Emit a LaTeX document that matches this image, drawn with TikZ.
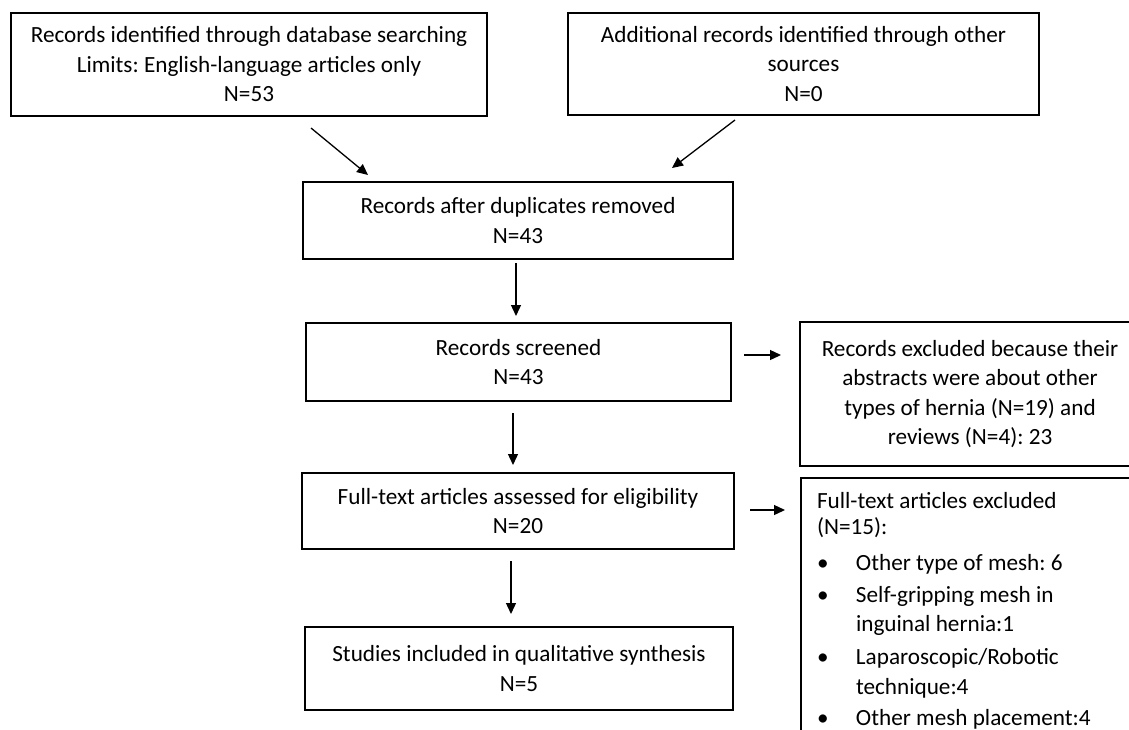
\documentclass[tikz,border=0pt]{standalone}
\usepackage{fontspec}
\setmainfont{Carlito}
\usepackage{tikz}
\usetikzlibrary{arrows.meta,calc,positioning}

\frenchspacing
\tikzset{
  prbox/.style={draw, line width=2pt, align=center, inner sep=0pt,
    font=\fontsize{23.2}{29.5}\selectfont,
    execute at begin node={\spaceskip=0pt\xspaceskip=0pt\relax}},
  arr/.style={line width=1.3pt, -{Triangle[length=11pt,width=10pt]}},
}
\newcommand{\bitem}{\makebox[39pt][l]{\textbullet}}

\begin{document}
\begin{tikzpicture}[x=1pt,y=1pt,yscale=-1]
\useasboundingbox (0,0) rectangle (1129,729);
\clip (0,0) rectangle (1129,729);

%Process: database search
\node[prbox, minimum width=476, minimum height=103] (srch) at (249,64.5)
  {Records identified through database searching\\Limits: English-language articles only\\N=53};
%Process: other sources
\node[prbox, minimum width=471, minimum height=102] (othr) at (803.5,64)
  {Additional records identified through other\\sources\\N=0};
%Process: duplicates removed
\node[prbox, minimum width=430, minimum height=77] (dupl) at (518,220.5)
  {Records after duplicates removed\\N=43};
%Process: screened
\node[prbox, minimum width=425, minimum height=78] (scrn) at (518.5,362)
  {Records screened\\N=43};
%Process: full text
\node[prbox, minimum width=432, minimum height=76] (full) at (518,511)
  {Full-text articles assessed for eligibility\\N=20};
%Process: included
\node[prbox, minimum width=428, minimum height=83] (incl) at (519,668.5)
  {Studies included in qualitative synthesis\\N=5};
%Process: records excluded
\node[prbox, minimum width=340, minimum height=144] (rexc) at (970,394)
  {Records excluded because their\\abstracts were about other\\types of hernia (N=19) and\\reviews (N=4): 23};
%Process: full text excluded
\node[prbox, anchor=north west, text width=308pt, align=left, inner xsep=16pt, inner ysep=14pt] (fexc) at (800,477)
  {Full-text articles excluded\\[-3pt](N=15):\\[6pt]
   \bitem Other type of mesh: 6\\[2.5pt]
   \bitem Self-gripping mesh in\\\hspace*{39pt}inguinal hernia:1\\[3.5pt]
   \bitem Laparoscopic/Robotic\\\hspace*{39pt}technique:4\\[1.5pt]
   \bitem Other mesh placement:4};

% Arrows
\draw[arr] ($(srch.south)+(62,11)$) -- ($(dupl.north)+(-150,-6)$);
\draw[arr] ($(othr.south)+(-68.5,4)$) -- ($(dupl.north)+(154,-13)$);
\draw[arr] ($(dupl.south)+(-2,3)$) -- ($(scrn.north)+(-2.5,-6)$);
\draw[arr] ($(scrn.south)+(-5.5,11)$) -- ($(full.north)+(-5,-7)$);
\draw[arr] ($(full.south)+(-7,11)$) -- ($(incl.north)+(-8,-12)$);
\draw[arr] ($(scrn.east)+(12,-7)$) -- ($(rexc.west)+(-18,-39)$);
\draw[arr] ($(full.east)+(15,-1)$) -- ($(fexc.north west)+(-15,33)$);
\end{tikzpicture}
\end{document}
